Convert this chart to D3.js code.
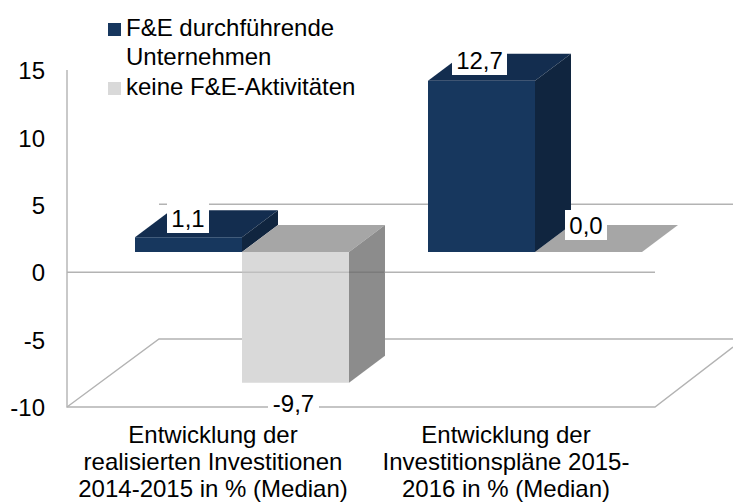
<!DOCTYPE html>
<html lang="en">
<head>
<meta charset="UTF-8">
<title>F&amp;E Investitionen</title>
<script src="https://d3js.org/d3.v7.min.js"></script>
<style>
    body { margin: 0; background: #fff; }
    svg { display: block; }
    text { font-family: "Liberation Sans", Arial, sans-serif; fill: #000; font-size: 24px; }
    .tick text { font-size: 24px; }
</style>
</head>
<body>
<svg width="733" height="502"></svg>
<script>
const categories = [
    ["Entwicklung der", "realisierten Investitionen", "2014-2015 in % (Median)"],
    ["Entwicklung der", "Investitionspläne 2015-", "2016 in % (Median)"]
];
const legendLines = [["F&E durchführende", "Unternehmen"], ["keine F&E-Aktivitäten"]];
const rdValues = [1.1, 12.7];
const noRdValues = [-9.7, 0.0];
const yTicks = [-10, -5, 0, 5, 10, 15];
const rdColors = { front: "#17375e", top: "#132d4f", side: "#10253f" };
const noRdColors = { front: "#d9d9d9", top: "#a6a6a6", side: "#8c8c8c" };

const svg = d3.select("svg");
const fmt = v => v.toFixed(1).replace(".", ",");

const y = d3.scaleLinear().domain([-10, 15]).range([407, 70]);
// depth of the floor and of the bars
const wallDx = 92, wallDy = -68, barDx = 36, barDy = -27;
const barShift = 252 - y(0);
const barW = 107;
const barStart = [135, 428];

// walls and floor
const grid = svg.append("g").attr("stroke", "#b3b3b3").attr("stroke-width", 1.4).attr("fill", "none");
const line = d3.line();
const walls = [
    [[67, y(15)], [67, y(-10)], [655, y(-10)], [733, y(-10) - 60]],
    [[67, y(-10)], [67 + wallDx, y(-10) + wallDy], [733, y(-10) + wallDy]],
    [[67, y(0)], [655, y(0)]],
    [[67 + wallDx, y(0) + wallDy], [733, y(0) + wallDy]]
];
grid.selectAll("path").data(walls).join("path").attr("d", line);

// y axis labels, hyphen instead of the d3 minus sign
const axis = d3.axisLeft(y).tickValues(yTicks).tickSize(0).tickPadding(22)
    .tickFormat(d => String(d));
const axisG = svg.append("g").attr("transform", "translate(67,0)").call(axis);
axisG.select(".domain").remove();
axisG.selectAll("text").attr("dy", "0.36em");

function drawBar(g, i, value, colors) {
    const x0 = barStart[i], x1 = x0 + barW;
    const yA = y(value) + barShift, yB = y(0) + barShift;
    const yTop = Math.min(yA, yB), yBot = Math.max(yA, yB);
    const poly = (pts, fill) => g.append("polygon").attr("points", pts.join(" ")).attr("fill", fill);
    poly([[x0, yTop], [x0 + barDx, yTop + barDy], [x1 + barDx, yTop + barDy], [x1, yTop]], colors.top);
    poly([[x1, yTop], [x1 + barDx, yTop + barDy], [x1 + barDx, yBot + barDy], [x1, yBot]], colors.side);
    if (yBot > yTop) poly([[x0, yTop], [x1, yTop], [x1, yBot], [x0, yBot]], colors.front);
}

function barLabel(g, text, x0, x1, base) {
    g.append("rect").attr("x", x0).attr("y", base - 24).attr("width", x1 - x0).attr("height", 30).attr("fill", "#fff");
    g.append("text").attr("x", (x0 + x1) / 2).attr("y", base).attr("text-anchor", "middle").text(text);
}

const bars = svg.append("g");
// draw back to front so the grey flat slab sits behind the blue column
drawBar(bars, 0, rdValues[0], rdColors);
[0, 1].forEach(i => {
    const g = bars.append("g").attr("transform", `translate(${barW},0)`);
    drawBar(g, i, noRdValues[i], noRdColors);
});
drawBar(bars, 1, rdValues[1], rdColors);
// the 0 line shows through the light bar
svg.append("line").attr("x1", 242).attr("x2", 384).attr("y1", y(0)).attr("y2", y(0))
    .attr("stroke", "#000").attr("stroke-opacity", 0.12).attr("stroke-width", 1.4);

const labels = svg.append("g");
barLabel(labels, fmt(rdValues[0]), 167, 209, 227);
barLabel(labels, fmt(rdValues[1]), 452, 507, 69);
barLabel(labels, fmt(noRdValues[0]), 268, 319, 412);
barLabel(labels, fmt(noRdValues[1]), 565, 607, 234);

// category labels
const cat = svg.append("g").attr("text-anchor", "middle");
const catCenter = [213, 506];
categories.forEach((lines, i) => {
    lines.forEach((t, j) => {
        cat.append("text").attr("x", catCenter[i]).attr("y", 443 + j * 27).text(t);
    });
});

// legend
const legend = svg.append("g");
const legendBase = [36, 95], legendFill = [rdColors.front, noRdColors.front];
legendLines.forEach((lines, i) => {
    legend.append("rect").attr("x", 108).attr("y", legendBase[i] - 13).attr("width", 13).attr("height", 13).attr("fill", legendFill[i]);
    lines.forEach((t, j) => {
        legend.append("text").attr("x", 126).attr("y", legendBase[i] + j * 29).text(t);
    });
});
</script>
</body>
</html>
